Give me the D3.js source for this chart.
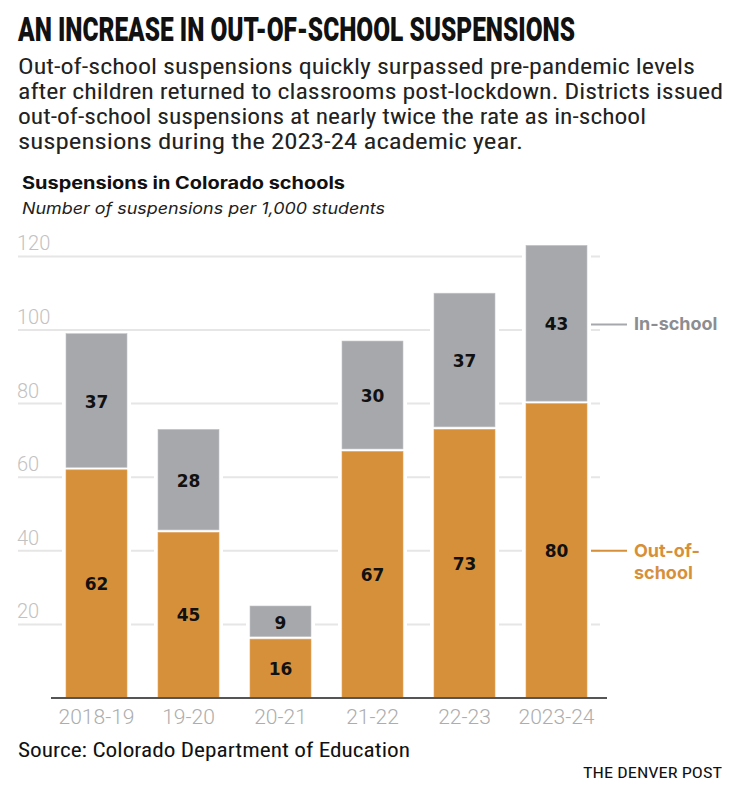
<!DOCTYPE html>
<html><head><meta charset="utf-8">
<script src="https://cdn.jsdelivr.net/npm/d3@7"></script>
<style>
body{margin:0;background:#fff;}
svg{display:block;}
</style></head>
<body>
<svg id="chart" width="752" height="802"></svg>
<script>
const categories = ["2018-19","19-20","20-21","21-22","22-23","2023-24"];
const outOfSchool = [62,45,16,67,73,80];
const inSchool = [37,28,9,30,37,43];
const yTicks = [20,40,60,80,100,120];
const subtitleLines = [
  "Out-of-school suspensions quickly surpassed pre-pandemic levels",
  "after children returned to classrooms post-lockdown. Districts issued",
  "out-of-school suspensions at nearly twice the rate as in-school",
  "suspensions during the 2023-24 academic year."
];
const subtitleWidths = [677, 705, 628, 505];

const orange = "#d7903a", gray = "#a7a8ab";
const svg = d3.select("#chart");
const condensed = "'Roboto Condensed','Liberation Sans Narrow','Roboto',sans-serif";

svg.append("text").attr("transform","translate(18,41) scale(1,1.14)")
  .attr("font-family","Roboto,sans-serif").attr("font-weight",900)
  .attr("font-size",29).attr("fill","#111")
  .attr("textLength",557).attr("lengthAdjust","spacingAndGlyphs")
  .text("AN INCREASE IN OUT-OF-SCHOOL SUSPENSIONS");

subtitleLines.forEach((t,i)=>{
  svg.append("text").attr("x",18).attr("y",74+i*25)
    .attr("font-family",condensed).attr("font-size",22.5).attr("fill","#222")
    .attr("textLength",subtitleWidths[i]).attr("lengthAdjust","spacingAndGlyphs")
    .text(t);
});

svg.append("text").attr("x",22).attr("y",189)
  .attr("font-family","Inter,Roboto,sans-serif").attr("font-weight",700)
  .attr("font-size",17).attr("fill","#111")
  .attr("textLength",323).attr("lengthAdjust","spacingAndGlyphs")
  .text("Suspensions in Colorado schools");
svg.append("text").attr("x",22).attr("y",214)
  .attr("font-family","Inter,Roboto,sans-serif").attr("font-style","italic")
  .attr("font-size",16).attr("fill","#222")
  .attr("textLength",363).attr("lengthAdjust","spacingAndGlyphs")
  .text("Number of suspensions per 1,000 students");

const y = d3.scaleLinear().domain([0,120]).range([698,256.4]);
const x = d3.scaleBand().domain(categories).range([50.5,602.5]).paddingInner(0.337).paddingOuter(0.1685);

// gridlines and tick labels
const grid = svg.append("g");
yTicks.forEach(v=>{
  grid.append("line").attr("x1",18).attr("x2",600).attr("y1",y(v)).attr("y2",y(v))
    .attr("stroke","#e6e6e6").attr("stroke-width",2);
  grid.append("text").attr("x",17).attr("y",y(v)-6)
    .attr("font-family","Roboto,sans-serif").attr("font-weight",300)
    .attr("font-size",20).attr("fill","#c2c2c2").text(v);
});

// white halos around bars
categories.forEach((c,i)=>{
  const top = y(outOfSchool[i]+inSchool[i]);
  svg.append("rect").attr("x",x(c)-4).attr("width",x.bandwidth()+8)
    .attr("y",top).attr("height",698-top).attr("fill","#fff");
});

// bars
categories.forEach((c,i)=>{
  const o = outOfSchool[i], s = inSchool[i];
  svg.append("rect").attr("x",x(c)).attr("width",x.bandwidth())
    .attr("y",y(o)).attr("height",y(0)-y(o)).attr("fill",orange)
    .attr("stroke","#e0a560").attr("stroke-width",0.6);
  svg.append("rect").attr("x",x(c)).attr("width",x.bandwidth())
    .attr("y",y(o+s)).attr("height",y(o)-y(o+s)-2.5).attr("fill",gray)
    .attr("stroke","#c2c3c5").attr("stroke-width",0.6);
  const cx = x(c)+x.bandwidth()/2;
  svg.append("text").attr("x",cx).attr("y",y(o/2)+6).attr("text-anchor","middle")
    .attr("font-family","'DejaVu Sans',sans-serif").attr("font-weight",700)
    .attr("font-size",17).attr("fill","#111").text(o);
  svg.append("text").attr("x",cx).attr("y",y(o+s/2)+6).attr("text-anchor","middle")
    .attr("font-family","'DejaVu Sans',sans-serif").attr("font-weight",700)
    .attr("font-size",17).attr("fill","#111").text(s);
});

// baseline
svg.append("line").attr("x1",51).attr("x2",607).attr("y1",698).attr("y2",698)
  .attr("stroke","#555").attr("stroke-width",2);

// x labels
categories.forEach(c=>{
  svg.append("text").attr("x",x(c)+x.bandwidth()/2).attr("y",724).attr("text-anchor","middle")
    .attr("font-family","Roboto,sans-serif").attr("font-weight",300)
    .attr("font-size",21).attr("fill","#adadad").text(c);
});

// legend
const last = categories.length-1;
const lx = x(categories[last])+x.bandwidth();
const yIn = y(outOfSchool[last]+inSchool[last]/2);
const yOut = y(outOfSchool[last]/2);
svg.append("line").attr("x1",lx+4).attr("x2",lx+40).attr("y1",yIn).attr("y2",yIn)
  .attr("stroke",gray).attr("stroke-width",2);
svg.append("text").attr("x",lx+47).attr("y",yIn+6)
  .attr("font-family","Inter,Roboto,sans-serif").attr("font-weight",700)
  .attr("font-size",18).attr("fill","#8c8d90").text("In-school");
svg.append("line").attr("x1",lx+4).attr("x2",lx+40).attr("y1",yOut).attr("y2",yOut)
  .attr("stroke",orange).attr("stroke-width",2);
svg.append("text").attr("x",lx+47).attr("y",yOut+6)
  .attr("font-family","Inter,Roboto,sans-serif").attr("font-weight",700)
  .attr("font-size",18).attr("fill",orange).text("Out-of-");
svg.append("text").attr("x",lx+47).attr("y",yOut+28)
  .attr("font-family","Inter,Roboto,sans-serif").attr("font-weight",700)
  .attr("font-size",18).attr("fill",orange).text("school");

svg.append("text").attr("x",18).attr("y",757)
  .attr("font-family",condensed).attr("font-size",21).attr("fill","#111")
  .attr("textLength",392).attr("lengthAdjust","spacingAndGlyphs")
  .text("Source: Colorado Department of Education");
svg.append("text").attr("x",583).attr("y",778)
  .attr("font-family",condensed).attr("font-size",15.5).attr("fill","#111")
  .attr("textLength",139).attr("lengthAdjust","spacingAndGlyphs")
  .text("THE DENVER POST");
</script>
</body></html>
